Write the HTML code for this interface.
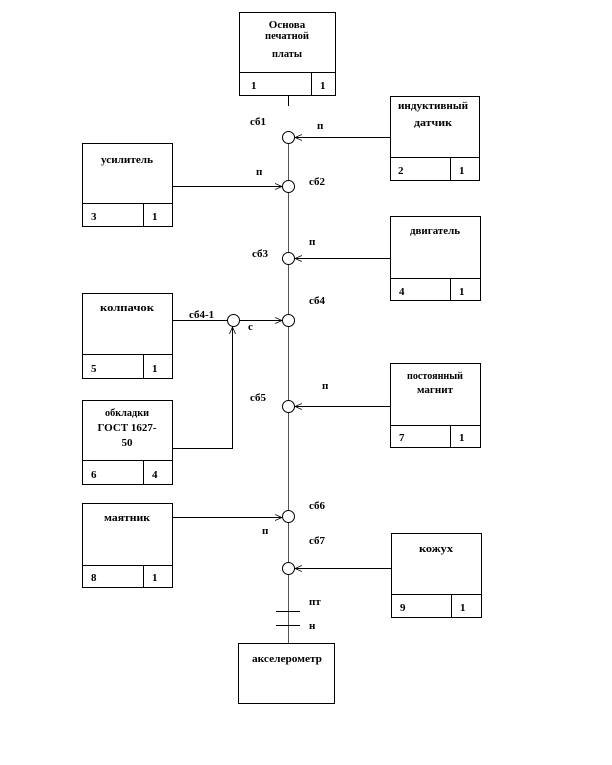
<!DOCTYPE html>
<html><head><meta charset="utf-8"><style>
body{margin:0;background:#fff}
svg text{font-family:"Liberation Serif",serif;font-weight:bold;font-size:11px;fill:#000}
</style></head><body>
<svg width="612" height="760" xmlns="http://www.w3.org/2000/svg">
<defs><marker id="a" markerWidth="8" markerHeight="8" refX="7" refY="4" orient="auto" markerUnits="userSpaceOnUse"><path d="M0,1 L7,4 L0,7" fill="none" stroke="#000" stroke-width="0.8"/></marker></defs>
<g fill="none" stroke="#000" stroke-width="1">
<!-- boxes -->
<rect x="239.5" y="12.5" width="96" height="83"/><line x1="239" y1="72.5" x2="336" y2="72.5"/><line x1="311.5" y1="72" x2="311.5" y2="96"/>
<rect x="390.5" y="96.5" width="89" height="84"/><line x1="390" y1="157.5" x2="480" y2="157.5"/><line x1="450.5" y1="157" x2="450.5" y2="181"/>
<rect x="82.5" y="143.5" width="90" height="83"/><line x1="82" y1="203.5" x2="173" y2="203.5"/><line x1="143.5" y1="203" x2="143.5" y2="227"/>
<rect x="390.5" y="216.5" width="90" height="84"/><line x1="390" y1="278.5" x2="481" y2="278.5"/><line x1="450.5" y1="278" x2="450.5" y2="301"/>
<rect x="82.5" y="293.5" width="90" height="85"/><line x1="82" y1="354.5" x2="173" y2="354.5"/><line x1="143.5" y1="354" x2="143.5" y2="379"/>
<rect x="82.5" y="400.5" width="90" height="84"/><line x1="82" y1="460.5" x2="173" y2="460.5"/><line x1="143.5" y1="460" x2="143.5" y2="485"/>
<rect x="390.5" y="363.5" width="90" height="84"/><line x1="390" y1="425.5" x2="481" y2="425.5"/><line x1="450.5" y1="425" x2="450.5" y2="448"/>
<rect x="82.5" y="503.5" width="90" height="84"/><line x1="82" y1="565.5" x2="173" y2="565.5"/><line x1="143.5" y1="565" x2="143.5" y2="588"/>
<rect x="391.5" y="533.5" width="90" height="84"/><line x1="391" y1="594.5" x2="482" y2="594.5"/><line x1="451.5" y1="594" x2="451.5" y2="618"/>
<rect x="238.5" y="643.5" width="96" height="60"/>
<!-- spine -->
<line x1="288.5" y1="96" x2="288.5" y2="106"/>
<line x1="288.5" y1="143" x2="288.5" y2="643" stroke="#555"/>
<!-- circles -->
<g fill="#fff">
<circle cx="288.5" cy="137.5" r="6"/><circle cx="288.5" cy="186.5" r="6"/><circle cx="288.5" cy="258.5" r="6"/><circle cx="288.5" cy="320.5" r="6"/><circle cx="233.5" cy="320.5" r="6"/><circle cx="288.5" cy="406.5" r="6"/><circle cx="288.5" cy="516.5" r="6"/><circle cx="288.5" cy="568.5" r="6"/>
</g>
<!-- arrows -->
<line x1="390" y1="137.5" x2="295" y2="137.5" marker-end="url(#a)"/>
<line x1="173" y1="186.5" x2="282" y2="186.5" marker-end="url(#a)"/>
<line x1="390" y1="258.5" x2="295" y2="258.5" marker-end="url(#a)"/>
<line x1="173" y1="320.5" x2="227" y2="320.5"/>
<line x1="240" y1="320.5" x2="282" y2="320.5" marker-end="url(#a)"/>
<polyline points="173,448.5 232.5,448.5 232.5,327" marker-end="url(#a)"/>
<line x1="390" y1="406.5" x2="295" y2="406.5" marker-end="url(#a)"/>
<line x1="173" y1="517.5" x2="282" y2="517.5" marker-end="url(#a)"/>
<line x1="391" y1="568.5" x2="295" y2="568.5" marker-end="url(#a)"/>
<line x1="276" y1="611.5" x2="300" y2="611.5"/><line x1="276" y1="625.5" x2="300" y2="625.5"/>
</g>
<g text-anchor="middle">
<text x="287" y="28">Основа</text><text x="287" y="39" textLength="44" lengthAdjust="spacingAndGlyphs">печатной</text><text x="287" y="57" textLength="30" lengthAdjust="spacingAndGlyphs">платы</text>
<text x="433" y="109" textLength="70" lengthAdjust="spacingAndGlyphs">индуктивный</text><text x="433" y="126" textLength="38" lengthAdjust="spacingAndGlyphs">датчик</text>
<text x="127" y="163" textLength="52" lengthAdjust="spacingAndGlyphs">усилитель</text>
<text x="435" y="234" textLength="50" lengthAdjust="spacingAndGlyphs">двигатель</text>
<text x="127" y="311" textLength="54" lengthAdjust="spacingAndGlyphs">колпачок</text>
<text x="127" y="416" textLength="44" lengthAdjust="spacingAndGlyphs">обкладки</text><text x="127" y="431">ГОСТ 1627-</text><text x="127" y="446">50</text>
<text x="435" y="379" textLength="56" lengthAdjust="spacingAndGlyphs">постоянный</text><text x="435" y="393" textLength="36" lengthAdjust="spacingAndGlyphs">магнит</text>
<text x="127" y="521" textLength="46" lengthAdjust="spacingAndGlyphs">маятник</text>
<text x="436" y="552" textLength="34" lengthAdjust="spacingAndGlyphs">кожух</text>
<text x="287" y="662" textLength="70" lengthAdjust="spacingAndGlyphs">акселерометр</text>
</g>
<g>
<text x="251" y="89">1</text><text x="320" y="89">1</text>
<text x="398" y="174">2</text><text x="459" y="174">1</text>
<text x="91" y="220">3</text><text x="152" y="220">1</text>
<text x="399" y="295">4</text><text x="459" y="295">1</text>
<text x="91" y="372">5</text><text x="152" y="372">1</text>
<text x="91" y="478">6</text><text x="152" y="478">4</text>
<text x="399" y="441">7</text><text x="459" y="441">1</text>
<text x="91" y="581">8</text><text x="152" y="581">1</text>
<text x="400" y="611">9</text><text x="460" y="611">1</text>
<text x="250" y="125">сб1</text><text x="317" y="129">п</text>
<text x="256" y="175">п</text><text x="309" y="185">сб2</text>
<text x="309" y="245">п</text><text x="252" y="257">сб3</text>
<text x="309" y="304">сб4</text><text x="189" y="318">сб4-1</text><text x="248" y="330">с</text>
<text x="322" y="389">п</text><text x="250" y="401">сб5</text>
<text x="309" y="509">сб6</text><text x="262" y="534">п</text>
<text x="309" y="544">сб7</text>
<text x="309" y="605">пт</text><text x="309" y="629">н</text>
</g>
</svg>
</body></html>
